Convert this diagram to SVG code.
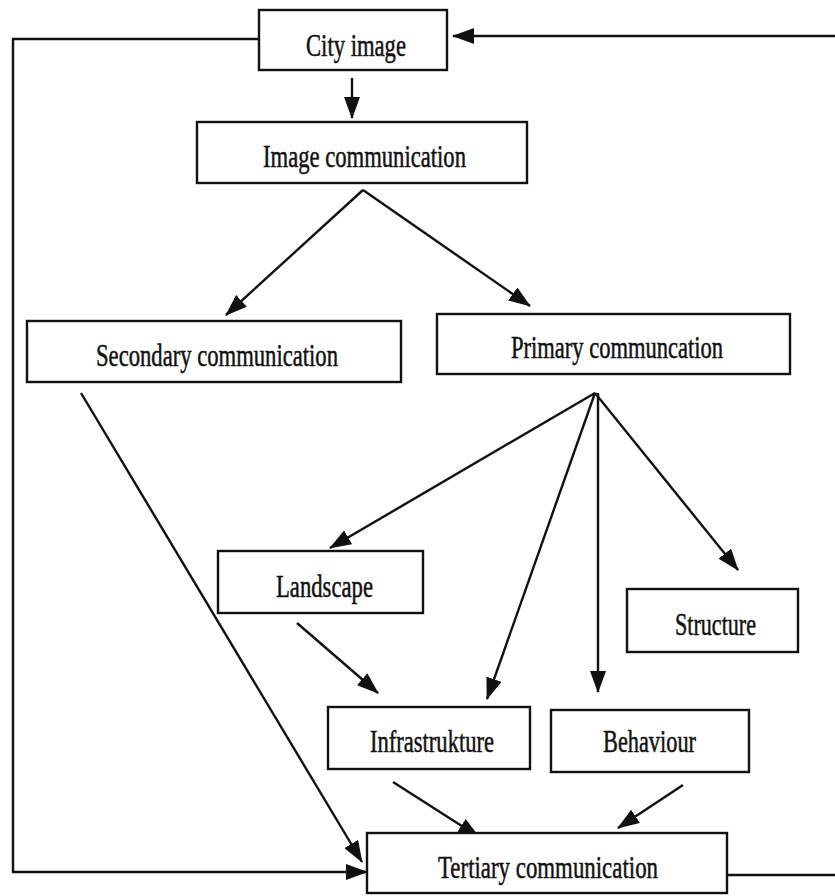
<svg xmlns="http://www.w3.org/2000/svg" width="835" height="896" viewBox="0 0 835 896">
<style>
.box{fill:#fff;stroke:#111;stroke-width:2.4}
.lbl{font-family:"Liberation Serif","Times New Roman",serif;font-size:31px;fill:#111;stroke:#111;stroke-width:0.5;text-anchor:start}
.ln{fill:none;stroke:#111;stroke-width:2.4}
.arr{fill:none;stroke:#111;stroke-width:2.4;marker-end:url(#ah)}
</style>
<defs>
<marker id="ah" markerUnits="userSpaceOnUse" markerWidth="22" markerHeight="16" refX="21" refY="8" orient="auto">
<path d="M0,0 L22,8 L0,16 z" fill="#111"/>
</marker>
</defs>
<rect width="835" height="896" fill="#fff"/>
<g id="connectors">
<polyline class="arr" points="259,39 13,39 13,872 367,872"/>
<line class="arr" x1="835" y1="36" x2="453" y2="36"/>
<line class="ln" x1="727" y1="875" x2="835" y2="875"/>
<line class="arr" x1="352" y1="78" x2="352" y2="118"/>
<line class="arr" x1="363" y1="190" x2="226" y2="315"/>
<line class="arr" x1="363" y1="190" x2="530" y2="306"/>
<line class="arr" x1="595" y1="393" x2="330" y2="548"/>
<line class="arr" x1="595" y1="393" x2="487" y2="699"/>
<line class="arr" x1="598" y1="393" x2="598" y2="692"/>
<line class="arr" x1="595" y1="393" x2="738" y2="570"/>
<line class="arr" x1="297" y1="623" x2="378" y2="693"/>
<line class="arr" x1="81" y1="393" x2="362" y2="862"/>
<line class="arr" x1="393" y1="782" x2="479" y2="837"/>
<line class="arr" x1="683" y1="785" x2="618" y2="828"/>
</g>
<g id="city-image"><rect class="box" x="259" y="10" width="188" height="60"/><text class="lbl" x="306" y="56" textLength="100" lengthAdjust="spacingAndGlyphs">City image</text></g>
<g id="image-communication"><rect class="box" x="197" y="122" width="330" height="61"/><text class="lbl" x="263" y="167" textLength="203" lengthAdjust="spacingAndGlyphs">Image communication</text></g>
<g id="secondary-communication"><rect class="box" x="27" y="321" width="374" height="61"/><text class="lbl" x="96" y="366" textLength="242" lengthAdjust="spacingAndGlyphs">Secondary communication</text></g>
<g id="primary-communication"><rect class="box" x="437" y="314" width="353" height="60"/><text class="lbl" x="511" y="358" textLength="212" lengthAdjust="spacingAndGlyphs">Primary communcation</text></g>
<g id="landscape"><rect class="box" x="218" y="551" width="205" height="62"/><text class="lbl" x="276" y="597" textLength="97" lengthAdjust="spacingAndGlyphs">Landscape</text></g>
<g id="structure"><rect class="box" x="627" y="589" width="171" height="63"/><text class="lbl" x="675" y="635" textLength="81" lengthAdjust="spacingAndGlyphs">Structure</text></g>
<g id="infrastrukture"><rect class="box" x="328" y="707" width="202" height="62"/><text class="lbl" x="370" y="752" textLength="124" lengthAdjust="spacingAndGlyphs">Infrastrukture</text></g>
<g id="behaviour"><rect class="box" x="551" y="710" width="198" height="62"/><text class="lbl" x="603" y="752" textLength="93" lengthAdjust="spacingAndGlyphs">Behaviour</text></g>
<g id="tertiary-communication"><rect class="box" x="367" y="833" width="360" height="60"/><text class="lbl" x="438" y="878" textLength="220" lengthAdjust="spacingAndGlyphs">Tertiary communication</text></g>
</svg>
